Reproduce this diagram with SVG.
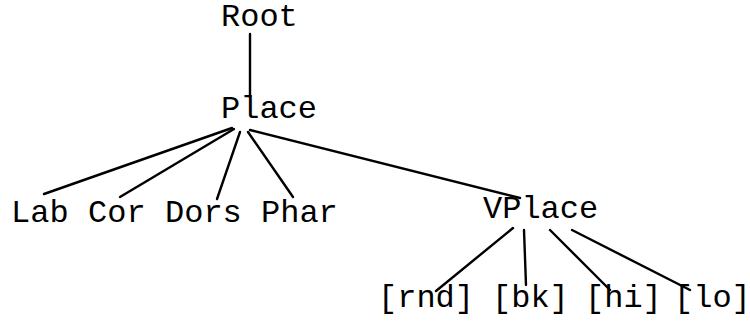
<svg xmlns="http://www.w3.org/2000/svg" width="750" height="325" viewBox="0 0 750 325">
  <style>
    .lbl { font-family: "Liberation Mono", "Courier New", monospace; font-size: 32px; fill: #000; }
    .edge { stroke: #000; stroke-width: 2.4; fill: none; stroke-linecap: round; }
  </style>
  <rect width="750" height="325" fill="#fff"/>
  <g id="connectors">
    <line class="edge" x1="250" y1="34" x2="250" y2="97"/>
    <line class="edge" x1="232" y1="128" x2="44" y2="194"/>
    <line class="edge" x1="234" y1="129" x2="120" y2="197"/>
    <line class="edge" x1="240" y1="132" x2="217" y2="199"/>
    <line class="edge" x1="248" y1="132" x2="293" y2="197"/>
    <line class="edge" x1="250" y1="130" x2="520" y2="198"/>
    <line class="edge" x1="513" y1="228" x2="436" y2="291"/>
    <line class="edge" x1="524" y1="230" x2="526" y2="285"/>
    <line class="edge" x1="550" y1="230" x2="610" y2="290"/>
    <line class="edge" x1="572" y1="230" x2="690" y2="290"/>
  </g>
  <g id="root"><text class="lbl" x="221" y="26">Root</text></g>
  <g id="place"><text class="lbl" x="221" y="118">Place</text></g>
  <g id="lab"><text class="lbl" x="11" y="222">Lab</text></g>
  <g id="cor"><text class="lbl" x="88" y="222">Cor</text></g>
  <g id="dors"><text class="lbl" x="165" y="222">Dors</text></g>
  <g id="phar"><text class="lbl" x="261" y="222">Phar</text></g>
  <g id="vplace"><text class="lbl" x="483" y="218">VPlace</text></g>
  <g id="rnd"><text class="lbl" x="378" y="307">[rnd]</text></g>
  <g id="bk"><text class="lbl" x="492" y="307">[bk]</text></g>
  <g id="hi"><text class="lbl" x="585" y="307">[hi]</text></g>
  <g id="lo"><text class="lbl" x="674" y="307">[lo]</text></g>
</svg>
